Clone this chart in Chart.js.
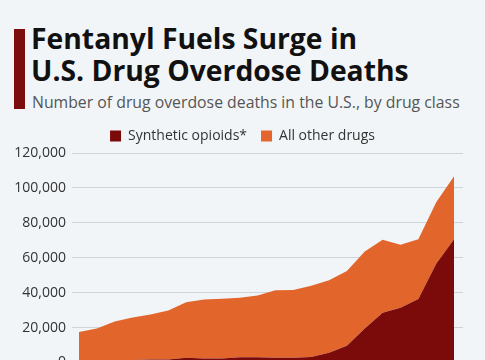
<!DOCTYPE html>
<html>
<head>
<meta charset="utf-8">
<script src="https://cdn.jsdelivr.net/npm/chart.js@4.4.0/dist/chart.umd.min.js"></script>
<style>
  html, body { margin: 0; padding: 0; }
  body {
    width: 485px; height: 360px; overflow: hidden; position: relative;
    background: #f1f5f8; font-family: "Open Sans", sans-serif;
  }
  .bar { position: absolute; left: 14px; top: 29px; width: 11px; height: 80px; background: #7d0c0c; }
  .title {
    position: absolute; left: 31px; top: 22px; margin: 0;
    font-size: 28.3px; line-height: 32px; font-weight: 700; color: #111;
  }
  .subtitle {
    position: absolute; left: 32px; top: 92px; margin: 0;
    font-size: 15.8px; line-height: 20px; color: #555;
  }
  .chart-box { position: absolute; left: 0; top: 115px; width: 485px; height: 265px; }
</style>
</head>
<body>
<div class="bar"></div>
<h1 class="title">Fentanyl Fuels Surge in<br>U.S. Drug Overdose Deaths</h1>
<p class="subtitle">Number of drug overdose deaths in the U.S., by drug class</p>
<div class="chart-box"><canvas id="grafico"></canvas></div>

<script>
// anos 2000-2021
const anos = [2000, 2001, 2002, 2003, 2004, 2005, 2006, 2007, 2008, 2009, 2010,
              2011, 2012, 2013, 2014, 2015, 2016, 2017, 2018, 2019, 2020, 2021];

const opioidesSinteticos = [782, 957, 1295, 1400, 1664, 1742, 2707, 2213, 2306, 2946, 3007,
                            2666, 2628, 3105, 5544, 9580, 19413, 28466, 31335, 36359, 56516, 70601];

const outrasDrogas = [16633, 18437, 22223, 24385, 25760, 28071, 31718, 33797, 34144, 34058, 35322,
                      38674, 38874, 40877, 41511, 42824, 44219, 41771, 36032, 34271, 35283, 36098];

const yTicks = [0, 20000, 40000, 60000, 80000, 100000, 120000];

function pontos(valores) {
    return anos.map((ano, i) => ({ x: ano, y: valores[i] }));
}

const ctx = document.getElementById('grafico').getContext('2d');
new Chart(ctx, {
    type: 'line',
    data: {
        datasets: [{
            label: 'Synthetic opioids*',
            data: pontos(opioidesSinteticos),
            backgroundColor: '#7b0b0b',
            borderColor: '#7b0b0b',
            borderWidth: 0,
            pointRadius: 0,
            fill: 'origin'
        }, {
            label: 'All other drugs',
            data: pontos(outrasDrogas),
            backgroundColor: '#e2662c',
            borderColor: '#e2662c',
            borderWidth: 0,
            pointRadius: 0,
            fill: '-1'
        }]
    },
    options: {
        responsive: true,
        maintainAspectRatio: false,
        animation: false,
        layout: { padding: 0 },
        plugins: {
            legend: {
                position: 'top',
                labels: {
                    boxWidth: 11, boxHeight: 11, padding: 14,
                    color: '#333',
                    font: { family: 'Open Sans', size: 14 }
                }
            },
            tooltip: { enabled: false }
        },
        scales: {
            x: {
                type: 'linear',
                display: false,
                min: 1999.61,
                max: 2021.5
            },
            y: {
                stacked: true,
                min: 0,
                max: 120000,
                z: 1,
                border: { display: false },
                grid: { color: 'rgba(70, 85, 100, 0.2)', drawTicks: false },
                afterFit: s => { s.width = 72; },
                afterBuildTicks: s => { s.ticks = yTicks.map(v => ({ value: v })); },
                ticks: {
                    padding: 6,
                    color: '#333',
                    font: { family: 'Open Sans', size: 14, lineHeight: 1.65 },
                    callback: v => v.toLocaleString('en-US')
                }
            },
            // eixo vazio a direita, só para reservar margem
            margem: {
                type: 'linear',
                position: 'right',
                display: true,
                grid: { display: false },
                border: { display: false },
                ticks: { display: false },
                afterFit: s => { s.width = 22; }
            }
        }
    }
});
</script>
</body>
</html>
